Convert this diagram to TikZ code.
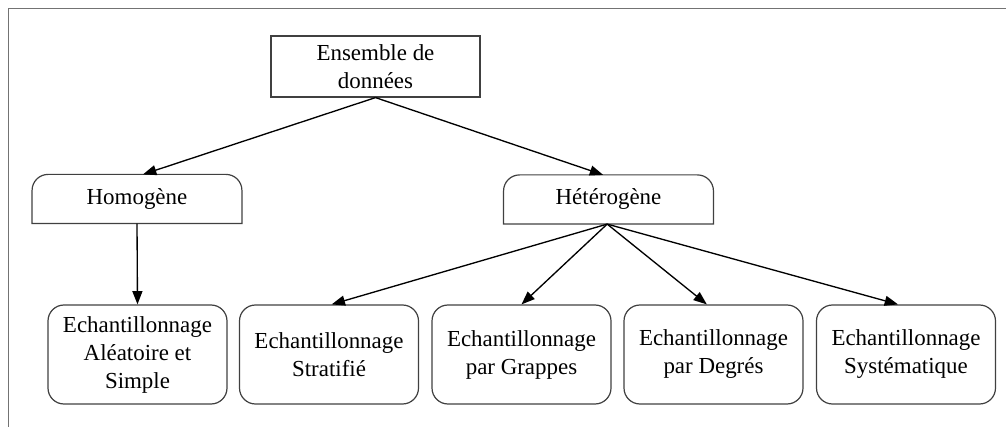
\documentclass[tikz,border=0pt]{standalone}
\usepackage{fontspec}
\setmainfont{Liberation Serif}
\usetikzlibrary{arrows.meta}
\begin{document}
\begin{tikzpicture}[x=0.75pt,y=-0.75pt,
  txt/.style={inner sep=0pt,align=center,font=\fontsize{17.2}{21}\selectfont},
  topbox/.style={txt,draw=black!75,line width=0.9pt,minimum width=156.75pt,minimum height=45.75pt},
  midbox/.style={txt,minimum width=157pt,minimum height=36.5pt},
  leafbox/.style={txt,draw=black!75,line width=0.9pt,rounded corners=12pt,minimum width=134.25pt,minimum height=74.25pt},
  edge/.style={line width=1pt,-{Triangle[length=10pt,width=7.5pt]}},
  frameline/.style={draw=black!55,line width=1pt}]
\useasboundingbox (0,0) rectangle (1006,427);
% frame
\coordinate (fa) at (8.5,427);
\coordinate (fb) at (8.5,8.5);
\coordinate (fc) at (1006,8.5);
\draw[frameline] (fa) -- (fb) -- (fc);
% nodes
\node[topbox] (root) at (375.5,66.5) {Ensemble de\\données};
\node[midbox] (hom) at (137,199) {Homogène};
\node[midbox] (het) at (608.5,199.5) {Hétérogène};
\foreach \n in {hom,het}{
  \draw[draw=black!75,line width=0.9pt] (\n.south west) [rounded corners=12pt] -- (\n.north west) -- (\n.north east) [sharp corners] -- (\n.south east) -- cycle;
}
\node[leafbox] (eas) at (137.5,354.5) {Echantillonnage\\Aléatoire et\\Simple};
\node[leafbox] (est) at (329,354.5) {Echantillonnage\\Stratifié};
\node[leafbox] (egr) at (521.5,354.5) {Echantillonnage\\par Grappes};
\node[leafbox] (edg) at (713.5,354.5) {Echantillonnage\\par Degrés};
\node[leafbox] (esy) at (906,354.5) {Echantillonnage\\Systématique};
% connectors
\draw[edge] (root.south) -- ([xshift=4.5pt]hom.north);
\draw[edge] (root.south) -- ([xshift=-4pt]het.north);
\draw[edge] (hom.south) -- (eas.north);
\draw[edge] ([xshift=-1pt]het.south) -- ([xshift=2pt]est.north);
\draw[edge] ([xshift=-1pt]het.south) -- (egr.north);
\draw[edge] ([xshift=-1pt]het.south) -- ([xshift=-5pt]edg.north);
\draw[edge] ([xshift=-1pt]het.south) -- ([xshift=-6pt]esy.north);
\end{tikzpicture}
\end{document}
